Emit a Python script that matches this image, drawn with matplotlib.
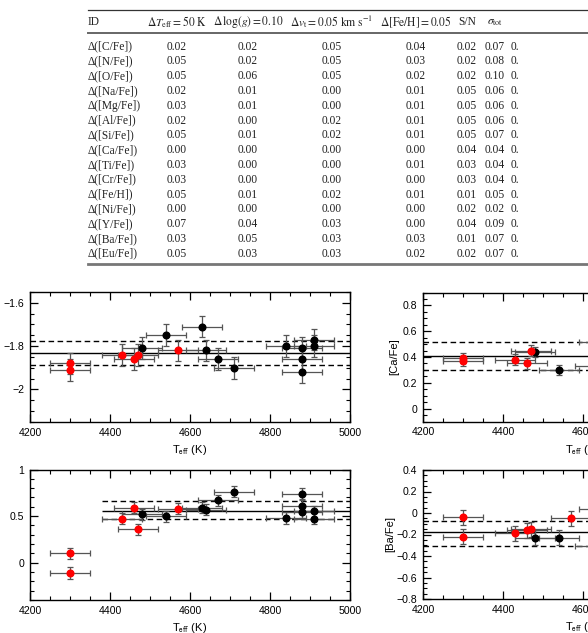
"""Sensitivity table plus four abundance-vs-Teff panels."""
import numpy as np
import matplotlib
matplotlib.use('Agg')
import matplotlib.pyplot as plt
from matplotlib.ticker import MultipleLocator, FuncFormatter

# ---- table data ----
row_ids = ['C/Fe', 'N/Fe', 'O/Fe', 'Na/Fe', 'Mg/Fe', 'Al/Fe', 'Si/Fe', 'Ca/Fe',
           'Ti/Fe', 'Cr/Fe', 'Fe/H', 'Ni/Fe', 'Y/Fe', 'Ba/Fe', 'Eu/Fe']
d_teff = ['0.02', '0.05', '0.05', '0.02', '0.03', '0.02', '0.05', '0.00',
          '0.03', '0.03', '0.05', '0.00', '0.07', '0.03', '0.05']
d_logg = ['0.02', '0.02', '0.06', '0.01', '0.01', '0.00', '0.01', '0.00',
          '0.00', '0.00', '0.01', '0.00', '0.04', '0.05', '0.03']
d_vt = ['0.05', '0.05', '0.05', '0.00', '0.00', '0.02', '0.02', '0.00',
        '0.00', '0.00', '0.02', '0.00', '0.03', '0.03', '0.03']
d_feh = ['0.04', '0.03', '0.02', '0.01', '0.01', '0.01', '0.01', '0.00',
         '0.01', '0.00', '0.01', '0.00', '0.00', '0.03', '0.02']
d_sn = ['0.02', '0.02', '0.02', '0.05', '0.05', '0.05', '0.05', '0.04',
        '0.03', '0.03', '0.01', '0.02', '0.04', '0.01', '0.02']
sig_tot = ['0.07', '0.08', '0.10', '0.06', '0.06', '0.06', '0.07', '0.04',
           '0.04', '0.04', '0.05', '0.02', '0.09', '0.07', '0.07']
last_col = ['0.'] * 15
headers = [r'$\Delta T_{\mathrm{eff}} = 50\ \mathrm{K}$',
           r'$\Delta\,\mathrm{log}(g) = 0.10$',
           r'$\Delta v_{\mathrm{t}} = 0.05\ \mathrm{km\ s^{-1}}$',
           r'$\Delta[\mathrm{Fe/H}] = 0.05$',
           'S/N', r'$\sigma_{\mathrm{tot}}$']

# ---- panel data (red = one group, black = other) ----
red_teff = [4300, 4300, 4430, 4460, 4470, 4570]
blk_teff = [4480, 4540, 4630, 4640, 4670, 4710, 4840, 4880, 4880, 4880, 4910, 4910]

fe_red = [-1.88, -1.91, -1.84, -1.86, -1.84, -1.82]
fe_blk = [-1.81, -1.75, -1.71, -1.82, -1.86, -1.90, -1.80, -1.81, -1.86, -1.92, -1.77, -1.80]
fe_lines = [-1.83, -1.775, -1.885]

na_red = [0.10, -0.11, 0.47, 0.59, 0.36, 0.58]
na_blk = [0.52, 0.50, 0.59, 0.57, 0.67, 0.76, 0.48, 0.74, 0.61, 0.54, 0.55, 0.47]
na_lines = [0.56, 0.665, 0.465]

ca_red_teff = [4300, 4300, 4430, 4460, 4470]
ca_red = [0.39, 0.37, 0.38, 0.35, 0.45]
ca_blk_teff = [4480, 4540, 4630, 4640]
ca_blk = [0.44, 0.30, 0.33, 0.52]
ca_lines = [0.41, 0.52, 0.30]

ba_red = [-0.04, -0.22, -0.19, -0.16, -0.15, -0.05]
ba_blk_teff = [4480, 4540, 4630, 4640]
ba_blk = [-0.23, -0.23, -0.31, 0.04]
ba_lines = [-0.18, -0.07, -0.31]

W, H = 588, 633
fig = plt.figure(figsize=(W / 100, H / 100), dpi=100)

# ---- table drawn in pixel coordinates ----
tab = fig.add_axes([0, 0, 1, 1])
tab.set_xlim(0, W)
tab.set_ylim(H, 0)
tab.axis('off')
serif = dict(family='Liberation Serif', fontsize=8.3, color='#222222', math_fontfamily='stix')
tab.plot([88, W], [10, 10], color='#333333', lw=0.9)
tab.plot([88, W], [33, 33], color='#666666', lw=1.4)
tab.plot([88, W], [263.5, 263.5], color='#777777', lw=2.0)
col_x = [177, 248, 332, 416, 467, 495]
tab.text(88, 22, 'ID', ha='left', va='center', **serif)
for x, h in zip(col_x, headers):
    tab.text(x, 22, h, ha='center', va='center', **serif)
cols = [d_teff, d_logg, d_vt, d_feh, d_sn, sig_tot]
for i, rid in enumerate(row_ids):
    y = 46.5 + i * 14.8
    tab.text(88, y, '\u0394([%s])' % rid, ha='left', va='center', **serif)
    for x, col in zip(col_x, cols):
        tab.text(x, y, col[i], ha='center', va='center', **serif)
    tab.text(511, y, last_col[i], ha='left', va='center', **serif)


def place(x0, y0, x1, y1):
    return fig.add_axes([x0 / W, 1 - y1 / H, (x1 - x0) / W, (y1 - y0) / H])


def fmt(v, pos):
    s = '%g' % round(v, 6)
    if s == '-0':
        s = '0'
    return s.replace('-', '\u2212')


sans = 'Liberation Sans'


def panel(ax, ylim, ymaj, ymin, rt, rv, bt, bv, err, lines, ylabel, labx, xline0=4200):
    for t, v, c in [(bt, bv, 'black'), (rt, rv, 'red')]:
        ax.errorbar(t, v, xerr=50, yerr=err, fmt='o', color=c, ms=4.8,
                    ecolor='#555555', elinewidth=0.9, capsize=2.3, capthick=0.9, zorder=3)
    ax.hlines(lines[0], xline0, 5000, color='black', lw=1.0, zorder=2)
    ax.hlines(lines[1:], xline0, 5000, color='black', lw=1.0, linestyles=(0, (4, 2.5)), zorder=2)
    ax.set_xlim(4200, 5000)
    ax.set_ylim(*ylim)
    ax.xaxis.set_major_locator(MultipleLocator(200))
    ax.xaxis.set_minor_locator(MultipleLocator(50))
    ax.yaxis.set_major_locator(MultipleLocator(ymaj))
    ax.yaxis.set_minor_locator(MultipleLocator(ymin))
    ax.yaxis.set_major_formatter(FuncFormatter(fmt))
    ax.tick_params(which='both', direction='in', top=True, right=True, labelsize=7.6, pad=4)
    ax.tick_params(which='major', length=6, width=0.9)
    ax.tick_params(which='minor', length=3, width=0.8)
    for lab in ax.get_xticklabels() + ax.get_yticklabels():
        lab.set_family(sans)
    for s in ax.spines.values():
        s.set_linewidth(1.0)
    ax.set_xlabel(r'T$_{\rm eff}$ (K)', family=sans, fontsize=8, math_fontfamily='stixsans', labelpad=4)
    ax.set_ylabel(ylabel, family=sans, fontsize=8, math_fontfamily='stixsans')
    ax.yaxis.set_label_coords(labx, 0.5)


ax1 = place(30, 292, 350, 422)
panel(ax1, (-2.15, -1.55), 0.2, 0.05, red_teff, fe_red, blk_teff, fe_blk, 0.05,
      fe_lines, '[Fe/H]', -0.092)

ax2 = place(423, 292.5, 743, 421.5)
panel(ax2, (-0.1, 0.9), 0.2, 0.05, ca_red_teff, ca_red, ca_blk_teff, ca_blk, 0.04,
      ca_lines, '[Ca/Fe]', -0.075)

ax3 = place(30, 469.5, 350, 600)
panel(ax3, (-0.4, 1.0), 0.5, 0.1, red_teff, na_red, blk_teff, na_blk, 0.06,
      na_lines, r'[Na/Fe]$_{\rm NLTE}$', -0.084, xline0=4380)

ax4 = place(423, 470, 743, 599)
panel(ax4, (-0.8, 0.4), 0.2, 0.05, red_teff, ba_red, ba_blk_teff, ba_blk, 0.07,
      ba_lines, '[Ba/Fe]', -0.088)

plt.savefig('out.png', dpi=100)
print('Saved out.png')
